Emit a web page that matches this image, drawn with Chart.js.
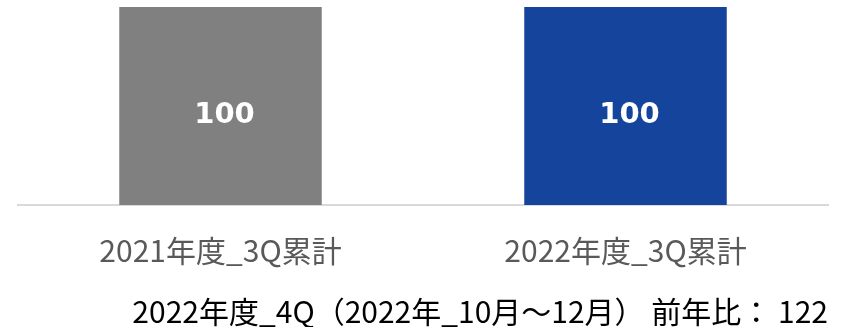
<!DOCTYPE html>
<html><head><meta charset="utf-8">
<script src="https://cdn.jsdelivr.net/npm/chart.js@4/dist/chart.umd.min.js"></script>
<style>html,body{margin:0;padding:0;background:#fff;}canvas{display:block;}</style>
</head><body>
<canvas id="c" width="842" height="327"></canvas>
<script>
const categories = ['2021年度_3Q累計', '2022年度_3Q累計'];
const values = [100, 100];
const valueLabels = ['100', '100'];
const barColors = ['#808080', '#15449C'];
const footnote = '2022年度_4Q（2022年_10月～12月） 前年比： 122';

const FONT = '"Noto Sans CJK JP"';

const labelPlugin = {
  id: 'barLabels',
  afterDatasetsDraw(chart) {
    const ctx = chart.ctx;
    const meta = chart.getDatasetMeta(0);
    ctx.save();
    ctx.fillStyle = '#ffffff';
    ctx.font = 'bold 29px "DejaVu Sans"';
    ctx.textAlign = 'center';
    ctx.textBaseline = 'middle';
    meta.data.forEach((bar, i) => {
      const y = bar.y + (bar.base - bar.y) * 0.55;
      ctx.fillText(valueLabels[i], bar.x + 4, y);
    });
    ctx.restore();
  }
};

new Chart(document.getElementById('c'), {
  type: 'bar',
  data: {
    labels: categories,
    datasets: [{ data: values, backgroundColor: barColors, borderWidth: 0,
      barPercentage: 1.0, categoryPercentage: 0.5 }]
  },
  options: {
    responsive: false,
    animation: false,
    layout: { padding: { top: 7, left: 18, right: 14, bottom: 0 } },
    plugins: {
      legend: { display: false },
      tooltip: { enabled: false },
      title: {
        display: true, text: footnote, position: 'bottom', align: 'end',
        color: '#000000', font: { family: FONT, size: 30, weight: 'normal', lineHeight: 1.0 },
        padding: { top: 0, bottom: 0 }
      }
    },
    scales: {
      x: {
        grid: { display: false, drawTicks: false },
        border: { display: true, color: '#d9d9d9', width: 2 },
        ticks: { color: '#595959', font: { family: FONT, size: 30, lineHeight: 1.0 }, padding: 31 }
      },
      y: { display: false, min: 0, max: 100 }
    }
  },
  plugins: [labelPlugin]
});
</script>
</body></html>
